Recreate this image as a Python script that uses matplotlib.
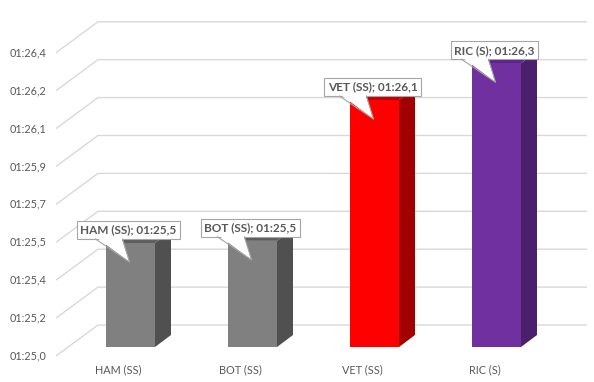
import matplotlib
matplotlib.use('Agg')
import matplotlib.pyplot as plt
from matplotlib.patches import Polygon
from matplotlib.transforms import IdentityTransform

plt.rcParams['font.family'] = ['Lato', 'DejaVu Sans']

# data
drivers = ['HAM (SS)', 'BOT (SS)', 'VET (SS)', 'RIC (S)']
lap_times = [85.48, 85.49, 86.14, 86.31]   # seconds
front_colors = ['#808080', '#808080', '#ff0000', '#7030a0']
side_colors = ['#505050', '#505050', '#a20000', '#4a1f6c']
top_colors = ['#5e5e5e', '#5e5e5e', '#c00000', '#5b2687']
tick_values = [85.0, 85.175, 85.35, 85.525, 85.7, 85.875, 86.05, 86.225, 86.4]
tick_labels = ['01:25,0', '01:25,2', '01:25,4', '01:25,5', '01:25,7',
               '01:25,9', '01:26,1', '01:26,2', '01:26,4']

W, H = 594, 382
fig = plt.figure(figsize=(W / 100, H / 100), dpi=100)
ax = fig.add_axes([0, 0, 1, 1])
ax.set_xlim(-130.5 / 122, (W - 130.5) / 122)
ax.set_ylim(85 - (H - 347) / 216.6, 85 + 347 / 216.6)
ax.axis('off')

ident = IdentityTransform()
txt_col = '#595959'
grid_col = '#d9d9d9'


def disp(x, v):
    return ax.transData.transform((x, v))


# walls: gridlines on side wall and back wall
for v, lab in zip(tick_values, tick_labels):
    _, y = disp(0, v)
    ax.plot([56, 98, 587], [y - 9, y + 22, y + 22], color=grid_col,
            lw=1.0, transform=ident, zorder=1, solid_capstyle='butt')
    ax.text(46, y - 9, lab, ha='right', va='center', fontsize=7.8,
            color=txt_col, transform=ident)

# bars (front face) + side/top faces
bw = 49 / 122
xs = list(range(len(drivers)))
ax.bar(xs, [t - 85 for t in lap_times], bottom=85, width=bw,
       color=front_colors, linewidth=0, zorder=3)

ddx, ddy = 16, 12
for i, t in enumerate(lap_times):
    x0, y0 = disp(i - bw / 2, 85)
    x1, y1 = disp(i + bw / 2, t)
    side = [(x1, y0), (x1, y1), (x1 + ddx, y1 + ddy), (x1 + ddx, y0 + ddy)]
    top = [(x0, y1), (x1, y1), (x1 + ddx, y1 + ddy), (x0 + ddx, y1 + ddy)]
    ax.add_patch(Polygon(side, closed=True, facecolor=side_colors[i],
                         edgecolor='none', transform=ident, zorder=2))
    ax.add_patch(Polygon(top, closed=True, facecolor=top_colors[i],
                         edgecolor='none', transform=ident, zorder=2))

    # category label
    cx, _ = disp(i, t)
    ax.text(cx - 12, H - 370, drivers[i], ha='center', va='center',
            fontsize=7.8, color=txt_col, transform=ident)

    # callout
    m = int(t // 60)
    s = t - 60 * m
    label = f"{drivers[i]}; {m:02d}:{s:04.1f}".replace('.', ',')
    ax.text(cx - 2, y1 + 13, label, ha='center', va='center', fontsize=8.5,
            fontweight='bold', color=txt_col, transform=ident, zorder=6,
            bbox=dict(boxstyle='square,pad=0.3', facecolor='white',
                      edgecolor='#a6a6a6', linewidth=0.8))
    wl, wr, tip = (cx - 35, y1 + 4), (cx - 8, y1 + 4), (cx - 1, y1 - 19)
    ax.add_patch(Polygon([(wl[0] + 1, wl[1] + 1.5), (wr[0] - 1, wr[1] + 1.5), tip],
                         closed=True, facecolor='white', edgecolor='none',
                         transform=ident, zorder=7))
    ax.plot([wl[0], tip[0], wr[0]], [wl[1], tip[1], wr[1]], color='#a6a6a6',
            lw=0.8, transform=ident, zorder=7)

fig.savefig('out.png', dpi=100)
